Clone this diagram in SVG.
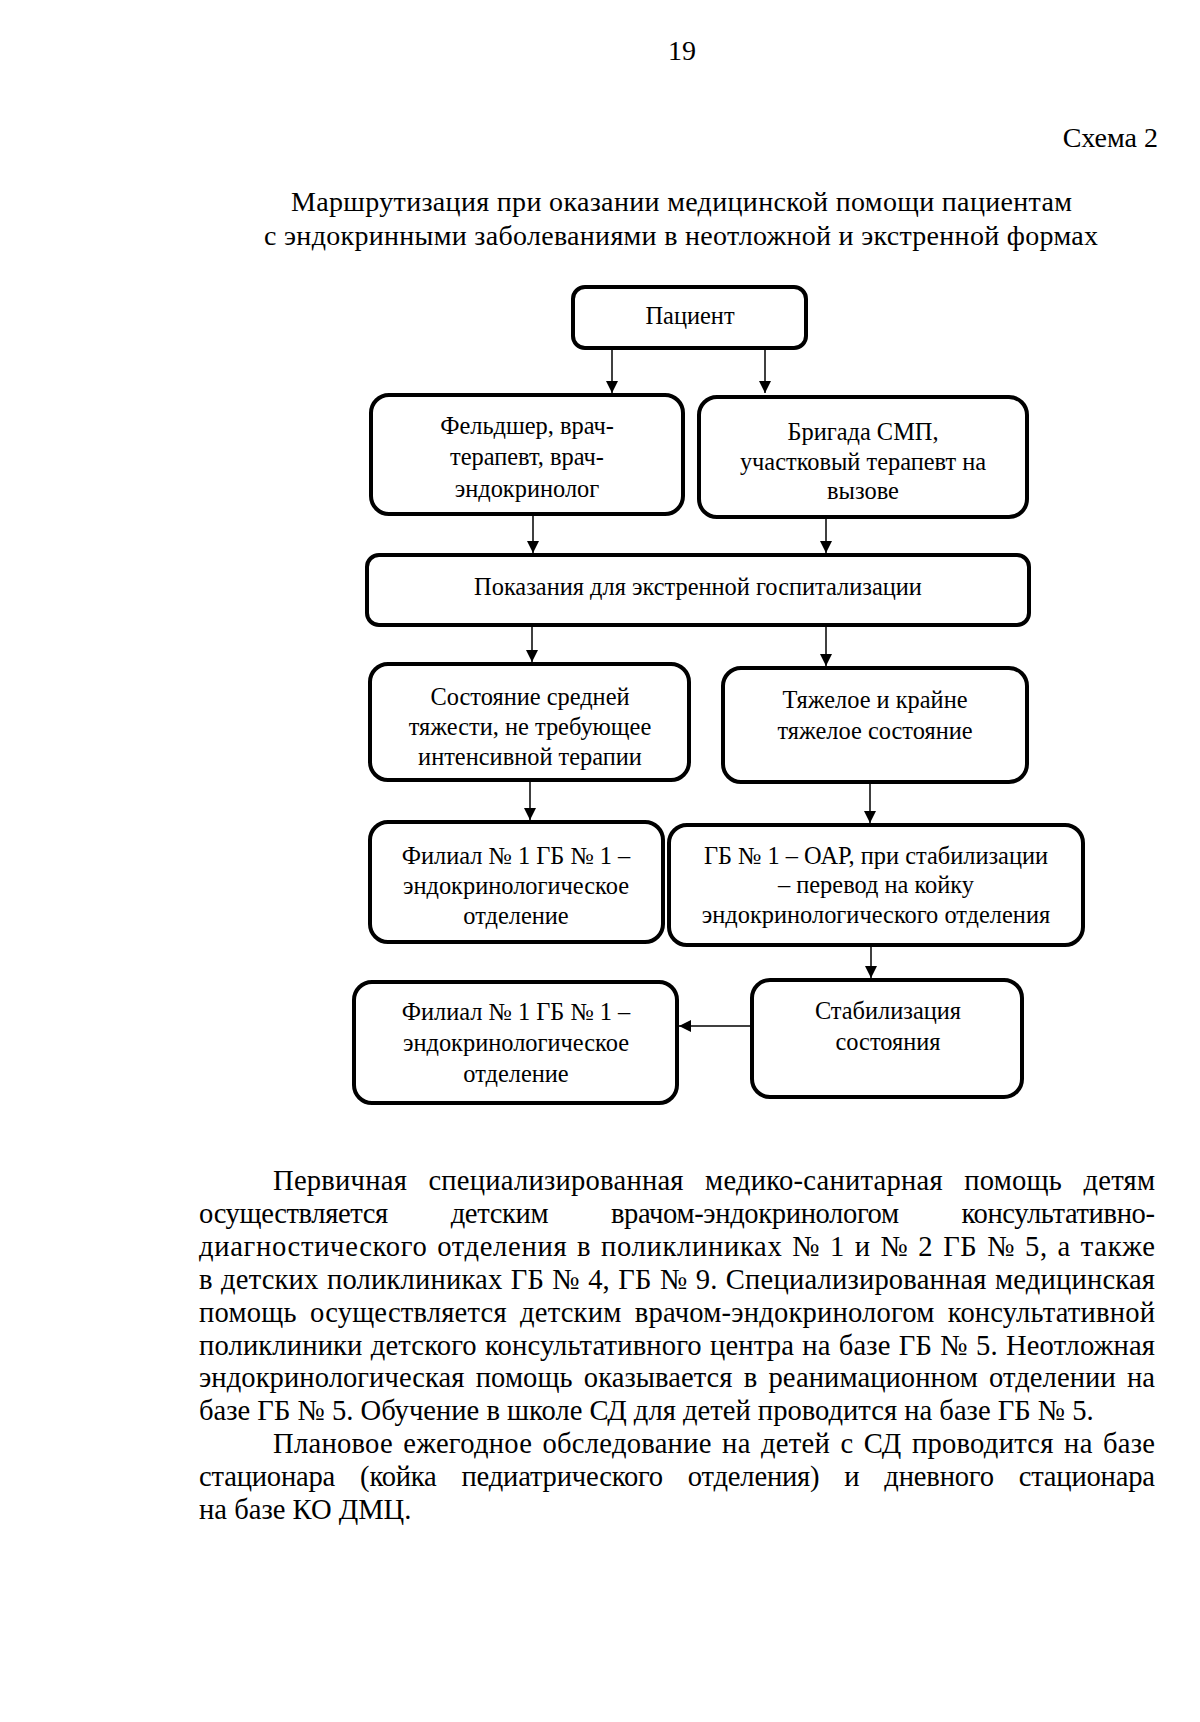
<svg xmlns="http://www.w3.org/2000/svg" width="1200" height="1722" viewBox="0 0 1200 1722">
<defs>
<style>
.t{font-family:"Liberation Serif","Times New Roman",serif;fill:#000}
.pg{font-size:28px}
.bd{font-size:28.6px}
.bx{font-size:24.4px;text-anchor:middle}
.box{fill:#fff;stroke:#000;stroke-width:4}
.ln{stroke:#000;stroke-width:1.5;fill:none;marker-end:url(#ah)}
</style>
<marker id="ah" viewBox="0 0 12 12" refX="12" refY="6" markerWidth="12" markerHeight="12" markerUnits="userSpaceOnUse" orient="auto">
<path d="M0,0 L12,6 L0,12 Z" fill="#000"/>
</marker>
</defs>
<rect width="1200" height="1722" fill="#fff"/>
<g id="header" class="t pg">
<text x="682" y="60" text-anchor="middle">19</text>
<text x="1158" y="147" text-anchor="end">Схема 2</text>
<text x="291" y="211" textLength="781" lengthAdjust="spacing">Маршрутизация при оказании медицинской помощи пациентам</text>
<text x="264" y="245" textLength="834" lengthAdjust="spacing">с эндокринными заболеваниями в неотложной и экстренной формах</text>
</g>
<g id="connectors">
<line class="ln" x1="612" y1="349" x2="612" y2="393"/>
<line class="ln" x1="765" y1="349" x2="765" y2="393"/>
<line class="ln" x1="533" y1="515" x2="533" y2="553"/>
<line class="ln" x1="826" y1="518" x2="826" y2="553"/>
<line class="ln" x1="532" y1="625" x2="532" y2="662"/>
<line class="ln" x1="826" y1="625" x2="826" y2="666"/>
<line class="ln" x1="530" y1="780" x2="530" y2="820"/>
<line class="ln" x1="870" y1="782" x2="870" y2="823"/>
<line class="ln" x1="871" y1="945" x2="871" y2="978"/>
<line class="ln" x1="750" y1="1026" x2="679" y2="1026"/>
</g>
<g id="n-patient"><rect class="box" x="573" y="287" width="233" height="61" rx="12"/>
<text class="t bx" x="690" y="324">Пациент</text></g>
<g id="n-feldsher"><rect class="box" x="371" y="395" width="312" height="119" rx="18"/>
<text class="t bx" x="527" y="434">Фельдшер, врач-</text>
<text class="t bx" x="527" y="465">терапевт, врач-</text>
<text class="t bx" x="527" y="497">эндокринолог</text></g>
<g id="n-brigada"><rect class="box" x="699" y="397" width="328" height="120" rx="18"/>
<text class="t bx" x="863" y="440">Бригада СМП,</text>
<text class="t bx" x="863" y="470">участковый терапевт на</text>
<text class="t bx" x="863" y="499">вызове</text></g>
<g id="n-pokazania"><rect class="box" x="367" y="555" width="662" height="70" rx="12"/>
<text class="t bx" x="698" y="595">Показания для экстренной госпитализации</text></g>
<g id="n-srednyaya"><rect class="box" x="370" y="664" width="319" height="116" rx="18"/>
<text class="t bx" x="530" y="705">Состояние средней</text>
<text class="t bx" x="530" y="735">тяжести, не требующее</text>
<text class="t bx" x="530" y="765">интенсивной терапии</text></g>
<g id="n-tyazheloe"><rect class="box" x="723" y="668" width="304" height="114" rx="18"/>
<text class="t bx" x="875" y="708">Тяжелое и крайне</text>
<text class="t bx" x="875" y="739">тяжелое состояние</text></g>
<g id="n-filial1"><rect class="box" x="370" y="822" width="293" height="120" rx="18"/>
<text class="t bx" x="516" y="864">Филиал № 1 ГБ № 1 –</text>
<text class="t bx" x="516" y="894">эндокринологическое</text>
<text class="t bx" x="516" y="924">отделение</text></g>
<g id="n-oar"><rect class="box" x="669" y="825" width="414" height="120" rx="18"/>
<text class="t bx" x="876" y="864">ГБ № 1 – ОАР, при стабилизации</text>
<text class="t bx" x="876" y="893">– перевод на койку</text>
<text class="t bx" x="876" y="923">эндокринологического отделения</text></g>
<g id="n-stab"><rect class="box" x="752" y="980" width="270" height="117" rx="18"/>
<text class="t bx" x="888" y="1019">Стабилизация</text>
<text class="t bx" x="888" y="1050">состояния</text></g>
<g id="n-filial2"><rect class="box" x="354" y="982" width="323" height="121" rx="18"/>
<text class="t bx" x="516" y="1020">Филиал № 1 ГБ № 1 –</text>
<text class="t bx" x="516" y="1051">эндокринологическое</text>
<text class="t bx" x="516" y="1082">отделение</text></g>
<g id="body" class="t bd">
<text x="273" y="1190" word-spacing="14" textLength="882" lengthAdjust="spacing">Первичная специализированная медико-санитарная помощь детям</text>
<text x="199" y="1223" word-spacing="56" textLength="956" lengthAdjust="spacing">осуществляется детским врачом-эндокринологом консультативно-</text>
<text x="199" y="1256" word-spacing="2" textLength="956" lengthAdjust="spacing">диагностического отделения в поликлиниках № 1 и № 2 ГБ № 5, а также</text>
<text x="199" y="1289" word-spacing="1" textLength="956" lengthAdjust="spacing">в детских поликлиниках ГБ № 4, ГБ № 9. Специализированная медицинская</text>
<text x="199" y="1322" word-spacing="6" textLength="956" lengthAdjust="spacing">помощь осуществляется детским врачом-эндокринологом консультативной</text>
<text x="199" y="1355" word-spacing="1" textLength="956" lengthAdjust="spacing">поликлиники детского консультативного центра на базе ГБ № 5. Неотложная</text>
<text x="199" y="1387" word-spacing="4" textLength="956" lengthAdjust="spacing">эндокринологическая помощь оказывается в реанимационном отделении на</text>
<text x="199" y="1420">базе ГБ № 5. Обучение в школе СД для детей проводится на базе ГБ № 5.</text>
<text x="273" y="1453" word-spacing="3" textLength="882" lengthAdjust="spacing">Плановое ежегодное обследование на детей с СД проводится на базе</text>
<text x="199" y="1486" word-spacing="18" textLength="956" lengthAdjust="spacing">стационара (койка педиатрического отделения) и дневного стационара</text>
<text x="199" y="1519">на базе КО ДМЦ.</text>
</g>
</svg>
